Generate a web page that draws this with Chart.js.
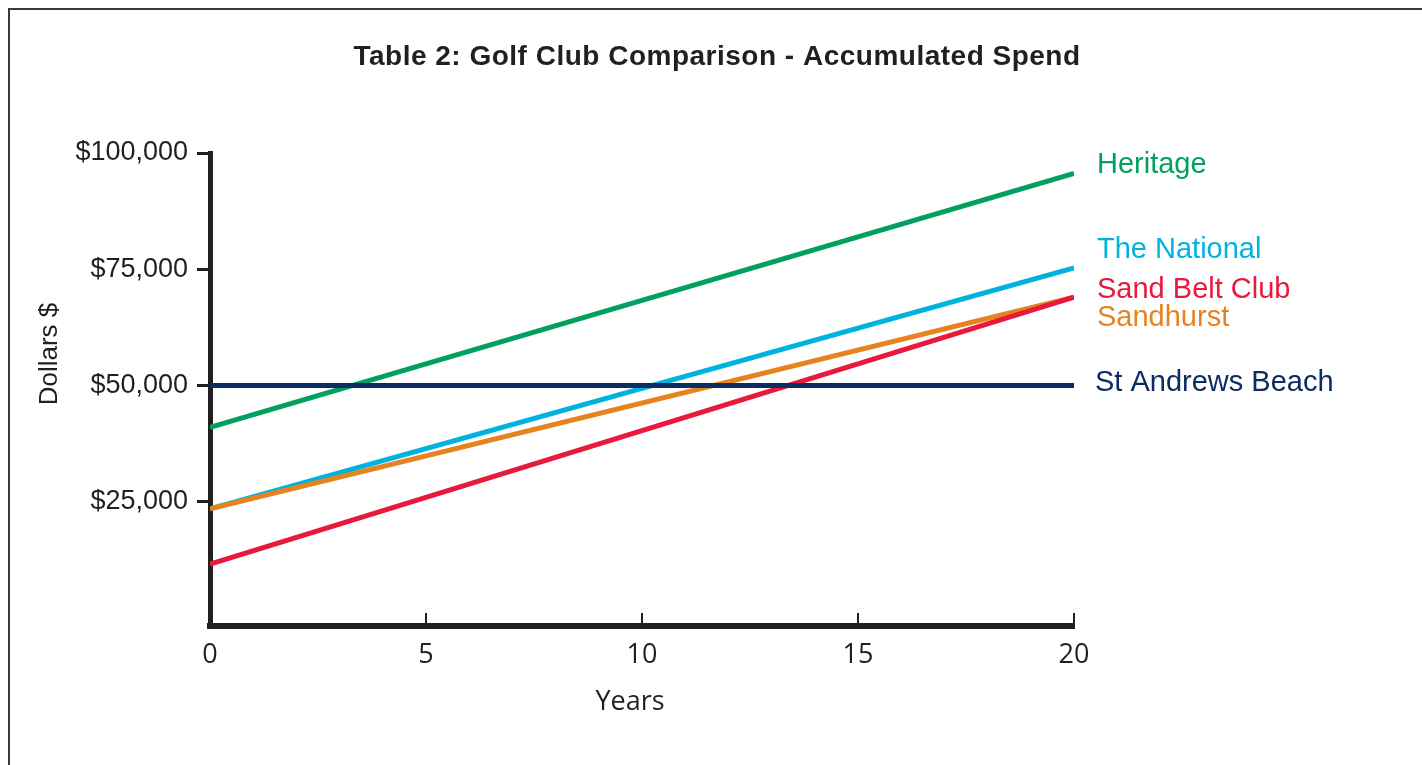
<!DOCTYPE html>
<html>
<head>
<meta charset="utf-8">
<title>Golf Club Comparison</title>
<script src="https://cdn.jsdelivr.net/npm/chart.js@4.4.0/dist/chart.umd.min.js"></script>
<style>
    html, body { margin: 0; padding: 0; background: #ffffff; }
    #chart-container { width: 1422px; height: 765px; }
</style>
</head>
<body>
<div id="chart-container"><canvas id="chart"></canvas></div>
<script>
// Dati
var years = [0, 20];
var clubNames = ['Heritage', 'The National', 'Sand Belt Club', 'Sandhurst', 'St Andrews Beach'];
var heritage = [41000, 95600];
var theNational = [23500, 75300];
var sandBelt = [11600, 69000];
var sandhurst = [23500, 69000];
var stAndrews = [50000, 50000];
var yTickValues = [25000, 50000, 75000, 100000];
var xTickValues = [0, 5, 10, 15, 20];

var clubColors = ['#00a160', '#00b3df', '#e8193d', '#e5841e', '#0c2d62'];
var axisColor = '#231f20';

function toPoints(values) {
    return years.map(function(x, i) { return { x: x, y: values[i] }; });
}

// Plugin per cornice, titolo, etichette a destra e tacche interne sull'asse x
var decorPlugin = {
    id: 'decor',
    afterDraw: function(chart) {
        var ctx = chart.ctx;
        var area = chart.chartArea;
        var xs = chart.scales.x;
        ctx.save();

        // cornice
        ctx.strokeStyle = '#3a3a3a';
        ctx.lineWidth = 2;
        ctx.beginPath();
        ctx.moveTo(9, 765);
        ctx.lineTo(9, 9);
        ctx.lineTo(1422, 9);
        ctx.stroke();

        // titolo
        ctx.fillStyle = axisColor;
        ctx.font = 'bold 28px "Liberation Sans", Arial, sans-serif';
        ctx.textAlign = 'center';
        ctx.textBaseline = 'middle';
        ctx.letterSpacing = '0.5px';
        ctx.fillText('Table 2: Golf Club Comparison - Accumulated Spend', 717, 57);
        ctx.letterSpacing = '0px';

        // tacche verso l'alto
        ctx.strokeStyle = axisColor;
        ctx.lineWidth = 2;
        xTickValues.slice(1).forEach(function(v) {
            var px = Math.round(xs.getPixelForValue(v));
            ctx.beginPath();
            ctx.moveTo(px, area.bottom);
            ctx.lineTo(px, area.bottom - 13);
            ctx.stroke();
        });

        // titoli degli assi
        ctx.font = '26px "Liberation Sans", Arial, sans-serif';
        ctx.save();
        ctx.translate(50, 354);
        ctx.rotate(-Math.PI / 2);
        ctx.fillText('Dollars $', 0, 0);
        ctx.restore();

        ctx.font = '27px "Liberation Sans Narrow", "Open Sans", sans-serif';
        ctx.fillText('Years', 630, 702);

        // etichette delle serie
        var labelShift = [-8, -18, -7, 21, -3];
        ctx.font = '29px "Liberation Sans", Arial, sans-serif';
        ctx.textAlign = 'left';
        chart.data.datasets.forEach(function(ds, i) {
            var meta = chart.getDatasetMeta(i);
            var last = meta.data[meta.data.length - 1];
            ctx.fillStyle = ds.borderColor;
            ctx.fillText(ds.label, area.right + (i === 4 ? 21 : 23), last.y + labelShift[i]);
        });
        ctx.restore();
    }
};

function generateLineChart() {
    var ctx = document.getElementById('chart').getContext('2d');
    var seriesValues = [heritage, theNational, sandBelt, sandhurst, stAndrews];
    var drawOrder = [2, 4, 1, 3, 0];

    var datasets = seriesValues.map(function(values, i) {
        return {
            label: clubNames[i],
            data: toPoints(values),
            borderColor: clubColors[i],
            backgroundColor: clubColors[i],
            borderWidth: 5,
            pointRadius: 0,
            tension: 0,
            borderCapStyle: 'butt',
            order: drawOrder[i]
        };
    });

    return new Chart(ctx, {
        type: 'line',
        data: { datasets: datasets },
        plugins: [decorPlugin],
        options: {
            responsive: true,
            maintainAspectRatio: false,
            animation: false,
            layout: { padding: { left: 0, right: 348, top: 153, bottom: 0 } },
            plugins: {
                legend: { display: false },
                tooltip: { enabled: false }
            },
            scales: {
                x: {
                    type: 'linear',
                    min: 0,
                    max: 20,
                    afterBuildTicks: function(s) {
                        s.ticks = xTickValues.map(function(v) { return { value: v }; });
                    },
                    afterFit: function(s) { s.height = 139; },
                    grid: { display: false, drawTicks: false },
                    border: { display: true, color: axisColor, width: 6 },
                    ticks: {
                        padding: 13,
                        color: axisColor,
                        maxRotation: 0,
                        font: { family: '"Liberation Sans Narrow", "Open Sans", sans-serif', size: 27 }
                    }
                },
                y: {
                    min: -1700,
                    max: 100000,
                    afterBuildTicks: function(s) {
                        s.ticks = yTickValues.map(function(v) { return { value: v }; });
                    },
                    afterFit: function(s) { s.width = 210; },
                    grid: {
                        drawOnChartArea: false,
                        drawTicks: true,
                        tickLength: 13,
                        lineWidth: 3,
                        color: axisColor
                    },
                    border: { display: true, color: axisColor, width: 5 },
                    ticks: {
                        padding: 9,
                        color: axisColor,
                        font: { family: '"Liberation Sans", Arial, sans-serif', size: 27 },
                        callback: function(v) { return '$' + v.toLocaleString('en-US'); }
                    }
                }
            }
        }
    });
}

generateLineChart();
</script>
</body>
</html>
